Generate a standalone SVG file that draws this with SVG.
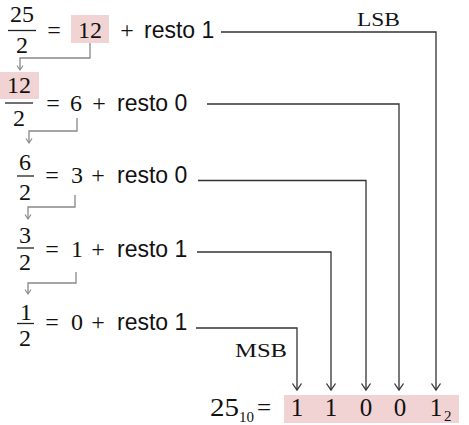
<svg xmlns="http://www.w3.org/2000/svg" width="469" height="425" viewBox="0 0 469 425">
<style>
.m{font-family:"Liberation Serif","Times New Roman",serif;font-size:24px;fill:#111;text-anchor:middle}
.b{font-family:"Liberation Serif","Times New Roman",serif;font-size:25px;fill:#111;text-anchor:middle}
.s{font-family:"Liberation Sans",Arial,sans-serif;font-size:23px;fill:#111}
.sub{font-family:"Liberation Serif","Times New Roman",serif;font-size:15px;fill:#111}
.lbl{font-family:"Liberation Serif","Times New Roman",serif;font-size:19px;fill:#111}
.bar{stroke:#222;stroke-width:1.3}
.hl{fill:#f2d3d4}
.c{fill:none;stroke:#333;stroke-width:1.3}
.e{fill:none;stroke:#888;stroke-width:1.3}
</style>
<defs>
<marker id="ar" markerUnits="userSpaceOnUse" markerWidth="10" markerHeight="12" refX="8" refY="6" orient="auto" viewBox="0 0 10 12">
<path d="M1.5,1.5 L8,6 L1.5,10.5" fill="none" stroke="#333" stroke-width="1.3"/>
</marker>
<marker id="as" markerUnits="userSpaceOnUse" markerWidth="7" markerHeight="8" refX="5.5" refY="4" orient="auto" viewBox="0 0 7 8">
<path d="M1,1 L5.5,4 L1,7" fill="none" stroke="#888" stroke-width="1.1"/>
</marker>
</defs>
<g id="row1">
<text class="m" x="22" y="22">25</text>
<line class="bar" x1="8" y1="30.5" x2="36" y2="30.5"/>
<text class="m" x="22" y="53">2</text>
<text class="m" x="54" y="38">=</text>
<rect class="hl" x="71" y="15" width="38" height="28"/>
<text class="m" x="90" y="38">12</text>
<text class="m" x="127" y="38">+</text>
<text class="s" x="144" y="38">resto 1</text>
</g>
<g id="row2">
<rect class="hl" x="0" y="72" width="39" height="27"/>
<text class="m" x="19" y="93">12</text>
<line class="bar" x1="5" y1="103" x2="33" y2="103"/>
<text class="m" x="19" y="126">2</text>
<text class="m" x="53" y="111">=</text>
<text class="m" x="76" y="111">6</text>
<text class="m" x="99" y="111">+</text>
<text class="s" x="117" y="111">resto 0</text>
</g>
<g id="row3">
<text class="m" x="25" y="170">6</text>
<line class="bar" x1="17" y1="176" x2="34" y2="176"/>
<text class="m" x="25" y="200">2</text>
<text class="m" x="52" y="183">=</text>
<text class="m" x="77" y="183">3</text>
<text class="m" x="98" y="183">+</text>
<text class="s" x="117" y="183">resto 0</text>
</g>
<g id="row4">
<text class="m" x="25" y="243">3</text>
<line class="bar" x1="17" y1="248" x2="34" y2="248"/>
<text class="m" x="25" y="270">2</text>
<text class="m" x="52" y="257">=</text>
<text class="m" x="77" y="257">1</text>
<text class="m" x="98" y="257">+</text>
<text class="s" x="117" y="257">resto 1</text>
</g>
<g id="row5">
<text class="m" x="26" y="320">1</text>
<line class="bar" x1="17" y1="323.5" x2="34" y2="323.5"/>
<text class="m" x="25" y="346">2</text>
<text class="m" x="52" y="330">=</text>
<text class="m" x="77" y="330">0</text>
<text class="m" x="98" y="330">+</text>
<text class="s" x="117" y="330">resto 1</text>
</g>
<g id="labels">
<text class="lbl" x="357" y="26" textLength="43" lengthAdjust="spacingAndGlyphs">LSB</text>
<text class="lbl" x="235" y="357" textLength="52" lengthAdjust="spacingAndGlyphs">MSB</text>
</g>
<g id="result">
<text class="b" x="210" y="416" style="text-anchor:start" textLength="29" lengthAdjust="spacingAndGlyphs">25</text>
<text class="sub" x="239" y="422">10</text>
<text class="b" x="264" y="416">=</text>
<rect class="hl" x="284" y="395" width="175" height="28"/>
<text class="b" x="297" y="416">1</text>
<text class="b" x="331" y="416">1</text>
<text class="b" x="366" y="416">0</text>
<text class="b" x="400" y="416">0</text>
<text class="b" x="436" y="416">1</text>
<text class="sub" x="444" y="421">2</text>
</g>
<g id="connectors">
<path class="e" d="M90,43 V58 H20 V70" marker-end="url(#as)"/>
<path class="e" d="M77,118 V131 H29 V143" marker-end="url(#as)"/>
<path class="e" d="M75,195 V207 H28 V219" marker-end="url(#as)"/>
<path class="e" d="M76,272 V283 H28 V294" marker-end="url(#as)"/>
<path class="c" d="M221,32 H436 V390" marker-end="url(#ar)"/>
<path class="c" d="M207,104 H399 V390" marker-end="url(#ar)"/>
<path class="c" d="M198,180.5 H366 V390" marker-end="url(#ar)"/>
<path class="c" d="M197,252 H331 V390" marker-end="url(#ar)"/>
<path class="c" d="M196,328 H297 V390" marker-end="url(#ar)"/>
</g>
</svg>
